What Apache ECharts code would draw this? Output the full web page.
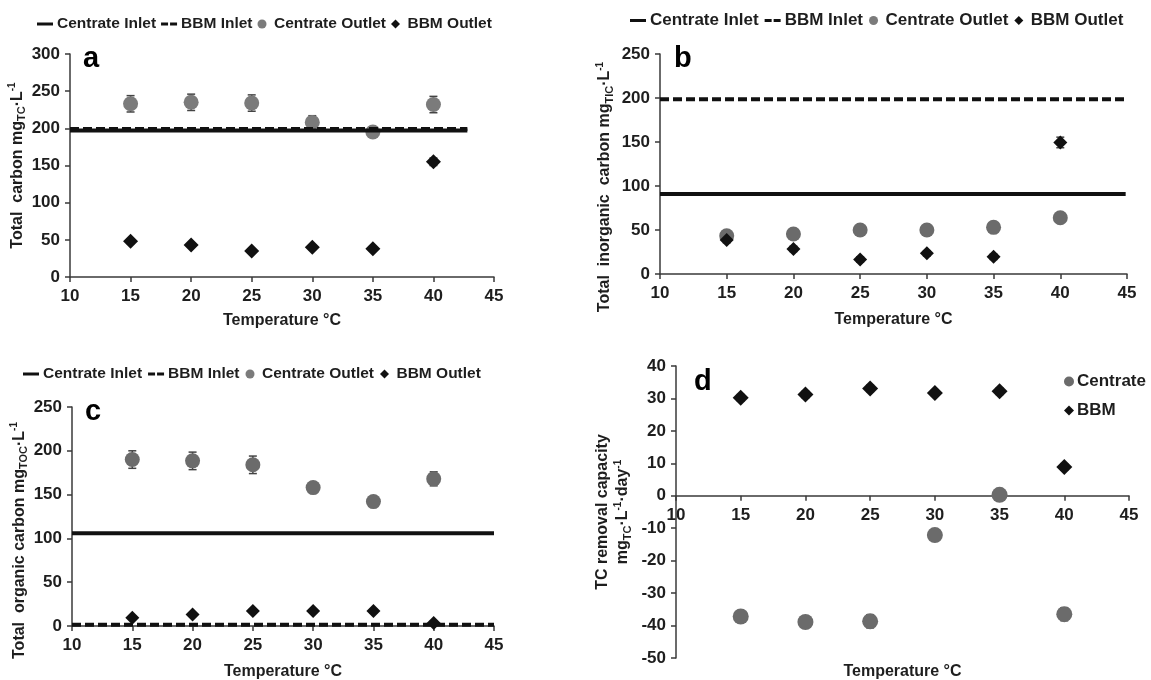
<!DOCTYPE html>
<html>
<head>
<meta charset="utf-8">
<script src="https://cdn.jsdelivr.net/npm/echarts@6/dist/echarts.min.js"></script>
<style>html,body{margin:0;padding:0;background:#fff}#c{width:1151px;height:680px}</style>
</head>
<body>
<div id="c"></div>
<script>
// ---------- data ----------
const temps = [15, 20, 25, 30, 35, 40];

// (a) Total carbon
const tcCentrateOut = [233, 235, 234, 208, 195, 232];
const tcCentrateErr = [11, 11, 11, 9, 4, 11];
const tcBbmOut = [48, 43, 35, 40, 38, 155];
const tcBbmErr = [3, 3, 3, 3, 3, 5];
const tcCentrateIn = 197;
const tcBbmIn = 199;
const tcInletX = [10, 42.8];

// (b) Total inorganic carbon
const ticCentrateOut = [43.5, 45.5, 50, 50, 53, 64];
const ticCentrateErr = [3, 3, 2, 2, 2, 3];
const ticBbmOut = [38.5, 28.5, 16.5, 23.5, 19.5, 149.5];
const ticBbmErr = [3, 3, 3, 3, 3, 6];
const ticCentrateIn = 91;
const ticBbmIn = 198.5;
const ticInletX = [10, 44.9];

// (c) Total organic carbon
const tocCentrateOut = [190, 188.5, 184, 158, 142, 168];
const tocCentrateErr = [10, 10, 10, 4, 4, 8];
const tocBbmOut = [9.5, 13, 17, 17, 17, 3.5];
const tocBbmErr = [2, 2, 2, 2, 2, 2];
const tocCentrateIn = 106;
const tocBbmIn = 1.5;
const tocInletX = [10, 45];

// (d) TC removal capacity
const remCentrate = [-37.2, -38.9, -38.7, -12.1, 0.3, -36.5];
const remCentrateErr = [1.5, 1.5, 2, 1, 1, 2];
const remBbm = [30.2, 31.2, 33.1, 31.7, 32.2, 8.9];
const remBbmErr = [1, 1, 1, 1, 1, 1];

// ---------- helpers ----------
const FONT = 'Liberation Sans, Arial, sans-serif';
const TXT = '#1e1e1e';
const AX = '#3a3a3a';
const GRAY_A = '#7b7b7b';
const GRAY = '#6b6b6b';
const BLACK = '#111';

function pts(xs, ys) { return xs.map((x, i) => [x, ys[i]]); }
function errPts(xs, ys, es) { return xs.map((x, i) => [x, ys[i] - es[i], ys[i] + es[i]]); }
function hline(xr, y) { return [[xr[0], y], [xr[1], y]]; }

function errRender(params, api) {
  const x = api.value(0), lo = api.value(1), hi = api.value(2);
  const p1 = api.coord([x, hi]), p2 = api.coord([x, lo]);
  const hw = 4;
  const style = { stroke: '#444', lineWidth: 1.5 };
  return {
    type: 'group', children: [
      { type: 'line', shape: { x1: p1[0], y1: p1[1], x2: p2[0], y2: p2[1] }, style },
      { type: 'line', shape: { x1: p1[0] - hw, y1: p1[1], x2: p1[0] + hw, y2: p1[1] }, style },
      { type: 'line', shape: { x1: p2[0] - hw, y1: p2[1], x2: p2[0] + hw, y2: p2[1] }, style }
    ]
  };
}

const rich = {
  n: { fontSize: 16, fontWeight: 'bold', fontFamily: FONT, color: TXT, lineHeight: 20 },
  s: { fontSize: 11, fontWeight: 'bold', fontFamily: FONT, color: TXT, lineHeight: 12, verticalAlign: 'bottom' },
  p: { fontSize: 10, fontWeight: 'bold', fontFamily: FONT, color: TXT, lineHeight: 12, verticalAlign: 'top' }
};

function xAxis(gi, nameGap, offset) {
  return {
    type: 'value', gridIndex: gi, min: 10, max: 45, interval: 5,
    offset: offset || 0,
    name: 'Temperature °C', nameLocation: 'middle', nameGap: nameGap,
    nameTextStyle: { fontSize: 16, fontWeight: 'bold', fontFamily: FONT, color: TXT },
    axisLine: { show: true, onZero: false, lineStyle: { color: AX, width: 1.5 } },
    axisTick: { show: true, length: 5, lineStyle: { color: AX, width: 1.5 } },
    axisLabel: { fontSize: 17, fontWeight: 'bold', fontFamily: FONT, color: TXT, margin: 11 },
    splitLine: { show: false }
  };
}
function yAxis(gi, min, max, interval, name, nameGap, pad) {
  return {
    type: 'value', gridIndex: gi, min: min, max: max, interval: interval,
    name: name, nameLocation: 'middle', nameGap: nameGap, nameRotate: 90,
    nameTextStyle: { rich: rich, padding: pad || 0, align: 'center' },
    axisLine: { show: true, lineStyle: { color: AX, width: 1.5 } },
    axisTick: { show: true, length: 5, lineStyle: { color: AX, width: 1.5 } },
    axisLabel: { fontSize: 17, fontWeight: 'bold', fontFamily: FONT, color: TXT, margin: 10 },
    splitLine: { show: false }
  };
}

function panelSeries(gi, d) {
  const s = [];
  s.push({ type: 'custom', xAxisIndex: gi, yAxisIndex: gi, renderItem: errRender,
    data: errPts(temps, d.cOut, d.cErr), encode: { x: 0, y: [1, 2] }, z: 2, silent: true });
  s.push({ type: 'custom', xAxisIndex: gi, yAxisIndex: gi, renderItem: errRender,
    data: errPts(temps, d.bOut, d.bErr), encode: { x: 0, y: [1, 2] }, z: 2, silent: true });
  s.push({ name: 'Centrate Outlet', type: 'scatter', xAxisIndex: gi, yAxisIndex: gi,
    symbol: 'circle', symbolSize: d.cSize, itemStyle: { color: d.gray, opacity: 1 },
    data: pts(temps, d.cOut), z: 3 });
  s.push({ name: 'Centrate Inlet', type: 'line', xAxisIndex: gi, yAxisIndex: gi,
    symbol: 'none', itemStyle: { color: BLACK }, lineStyle: { color: BLACK, width: 4 },
    data: hline(d.xr, d.cIn), z: d.lineZ });
  s.push({ name: 'BBM Inlet', type: 'line', xAxisIndex: gi, yAxisIndex: gi,
    symbol: 'none', itemStyle: { color: BLACK }, lineStyle: { color: BLACK, width: 4, type: [9, 4] },
    data: hline(d.xr, d.bIn), z: d.lineZ });
  s.push({ name: 'BBM Outlet', type: 'scatter', xAxisIndex: gi, yAxisIndex: gi,
    symbol: 'diamond', symbolSize: d.bSize, itemStyle: { color: BLACK, opacity: 1 },
    data: pts(temps, d.bOut), z: 5 });
  return s;
}

const SOLID_ICON = 'path://M0,0h16v3h-16z';
const DASH_ICON = 'path://M0,0h7v3h-7zM9,0h7v3h-7z';
const DIAMOND_ICON = 'path://M5,0L10,5L5,10L0,5z';

function legend(left, top, fs, gap) {
  return {
    left: left, top: top, padding: 0, itemWidth: 16, itemHeight: 9, itemGap: gap,
    selectedMode: false,
    textStyle: { fontSize: fs, fontWeight: 'bold', fontFamily: FONT, color: TXT, padding: [0, 0, 0, -1] },
    data: [
      { name: 'Centrate Inlet', icon: SOLID_ICON, itemStyle: { color: BLACK } },
      { name: 'BBM Inlet', icon: DASH_ICON, itemStyle: { color: BLACK } },
      { name: 'Centrate Outlet', icon: 'circle' },
      { name: 'BBM Outlet', icon: DIAMOND_ICON, itemStyle: { color: BLACK } }
    ]
  };
}

function letter(t, left, top) {
  return { text: t, left: left, top: top, padding: 0,
    textStyle: { fontSize: 29, fontWeight: 'bold', fontFamily: FONT, color: '#000' } };
}

const series = [].concat(
  panelSeries(0, { cOut: tcCentrateOut, cErr: tcCentrateErr, bOut: tcBbmOut, bErr: tcBbmErr,
    cIn: tcCentrateIn, bIn: tcBbmIn, xr: tcInletX, gray: GRAY_A, cSize: 15, bSize: 15, lineZ: 4 }),
  panelSeries(1, { cOut: ticCentrateOut, cErr: ticCentrateErr, bOut: ticBbmOut, bErr: ticBbmErr,
    cIn: ticCentrateIn, bIn: ticBbmIn, xr: ticInletX, gray: GRAY, cSize: 15, bSize: 14, lineZ: 1 }),
  panelSeries(2, { cOut: tocCentrateOut, cErr: tocCentrateErr, bOut: tocBbmOut, bErr: tocBbmErr,
    cIn: tocCentrateIn, bIn: tocBbmIn, xr: tocInletX, gray: GRAY, cSize: 15, bSize: 14, lineZ: 1 }),
  [
    { type: 'custom', xAxisIndex: 3, yAxisIndex: 3, renderItem: errRender,
      data: errPts(temps, remCentrate, remCentrateErr), encode: { x: 0, y: [1, 2] }, z: 2, silent: true },
    { type: 'custom', xAxisIndex: 3, yAxisIndex: 3, renderItem: errRender,
      data: errPts(temps, remBbm, remBbmErr), encode: { x: 0, y: [1, 2] }, z: 2, silent: true },
    { name: 'Centrate', type: 'scatter', xAxisIndex: 3, yAxisIndex: 3, symbol: 'circle', symbolSize: 16,
      itemStyle: { color: GRAY, opacity: 1 }, data: pts(temps, remCentrate), z: 3 },
    { name: 'BBM', type: 'scatter', xAxisIndex: 3, yAxisIndex: 3, symbol: 'diamond', symbolSize: 16,
      itemStyle: { color: BLACK, opacity: 1 }, data: pts(temps, remBbm), z: 3 }
  ]
);

const gridBase = { containLabel: false, outerBoundsMode: 'none' };

// panel d: grid spans y 366..658 for -50..40, so the zero line sits 50/90 of the height above the bottom
const dTop = 366, dBottomPx = 658;
const dZeroOffset = -(dBottomPx - dTop) * 50 / 90;

const option = {
  animation: false,
  backgroundColor: '#fff',
  title: [letter('a', 83, 44), letter('b', 674, 44), letter('c', 85, 397), letter('d', 694, 367)],
  legend: [
    legend(37, 16, 15.5, 5),
    legend(630, 12, 17, 6),
    legend(23, 366, 15.5, 6),
    { left: 1064, top: 373, orient: 'vertical', padding: 0, itemWidth: 10, itemHeight: 10, itemGap: 12,
      selectedMode: false,
      textStyle: { fontSize: 17, fontWeight: 'bold', fontFamily: FONT, color: TXT, padding: [0, 0, 0, -2] },
      data: [{ name: 'Centrate', icon: 'circle' }, { name: 'BBM', icon: DIAMOND_ICON, itemStyle: { color: BLACK } }] }
  ],
  grid: [
    Object.assign({ left: 70, right: 657, top: 54, bottom: 403 }, gridBase),
    Object.assign({ left: 660, right: 24, top: 54, bottom: 406 }, gridBase),
    Object.assign({ left: 72, right: 657, top: 407, bottom: 54 }, gridBase),
    Object.assign({ left: 676, right: 22, top: dTop, bottom: 680 - dBottomPx }, gridBase)
  ],
  xAxis: [xAxis(0, 36), xAxis(1, 38), xAxis(2, 38), xAxis(3, 168, dZeroOffset)],
  yAxis: [
    yAxis(0, 0, 300, 50, '{n|Total  carbon mg}{s|TC}{n|·L}{p|-1}', 40),
    yAxis(1, 0, 250, 50, '{n|Total  inorganic  carbon mg}{s|TIC}{n|·L}{p|-1}', 45, [0, 46, 0, 0]),
    yAxis(2, 0, 250, 50, '{n|Total  organic carbon mg}{s|TOC}{n|·L}{p|-1}', 42, [0, 48, 0, 0]),
    yAxis(3, -50, 40, 10, '{n|TC removal capacity}\n{n|mg}{s|TC}{n|·L}{p|-1}{n|·day}{p|-1}', 43)
  ],
  series: series
};

const chart = echarts.init(document.getElementById('c'), null, { renderer: 'canvas' });
chart.setOption(option);
</script>
</body>
</html>
